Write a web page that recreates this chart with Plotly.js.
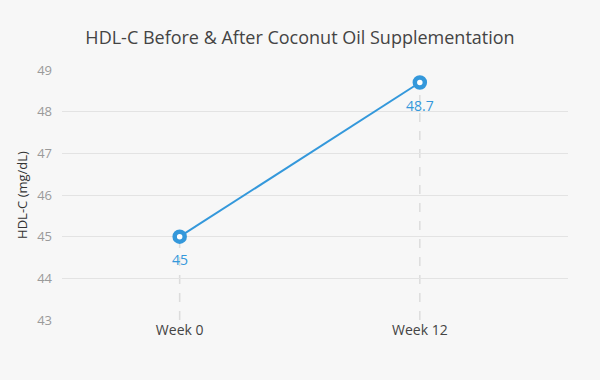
<!DOCTYPE html>
<html>
<head>
<meta charset="utf-8">
<script src="https://cdn.plot.ly/plotly-3.0.1.min.js"></script>
<style>html,body{margin:0;padding:0;background:#f7f7f7;}#chart{width:600px;height:380px;}</style>
</head>
<body>
<div id="chart"></div>
<script>
var categories = ["Week 0", "Week 12"];
var hdlValues = [45, 48.7];
var valueLabels = ["45", "48.7"];
var yTicks = [43, 44, 45, 46, 47, 48, 49];

var blue = "#3498db";
var trace = {
  x: categories,
  y: hdlValues,
  type: "scatter",
  mode: "lines+markers",
  line: {color: blue, width: 2},
  marker: {size: 10, color: "#ffffff", line: {color: blue, width: 4.5}},
  hoverinfo: "x+y",
  cliponaxis: false
};

var shapes = categories.map(function (c, i) {
  return {
    type: "line", xref: "x", yref: "y",
    x0: c, x1: c, y0: 43, y1: hdlValues[i],
    line: {color: "#dcdcdc", width: 1.5, dash: "dash"},
    layer: "below"
  };
});

var annotations = categories.map(function (c, i) {
  return {
    x: c, y: hdlValues[i], xref: "x", yref: "y",
    text: valueLabels[i], showarrow: false,
    yshift: -23,
    font: {color: blue, size: 14}
  };
});

var layout = {
  width: 600, height: 380,
  paper_bgcolor: "#f7f7f7",
  plot_bgcolor: "#f7f7f7",
  font: {family: "'Open Sans', 'Noto Sans', sans-serif", color: "#444"},
  title: {text: "HDL-C Before & After Coconut Oil Supplementation", font: {size: 18, color: "#444"}, x: 0.5, xanchor: "center", y: 0.9, yanchor: "middle"},
  margin: {l: 62, r: 32, t: 70, b: 60},
  showlegend: false,
  xaxis: {
    type: "category",
    range: [-0.49, 1.617],
    showgrid: false, zeroline: false, showline: false,
    tickfont: {size: 14, color: "#444"},
    ticks: ""
  },
  yaxis: {
    range: [43, 49],
    tickvals: yTicks,
    showgrid: true, gridcolor: "#e3e3e3", gridwidth: 1,
    zeroline: false, showline: false,
    ticks: "",
    ticklabelstandoff: 9,
    tickfont: {size: 13, color: "#9a9a9a"},
    title: {text: "HDL-C (mg/dL)", font: {size: 13, color: "#333"}, standoff: 6}
  },
  shapes: shapes,
  annotations: annotations
};

Plotly.newPlot("chart", [trace], layout, {displayModeBar: false, staticPlot: true});
</script>
</body>
</html>
